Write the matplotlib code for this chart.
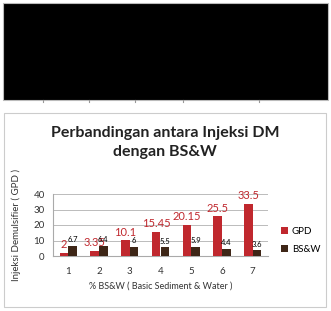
import matplotlib.pyplot as plt
import matplotlib.patches as patches
import numpy as np

kategori = ["1", "2", "3", "4", "5", "6", "7"]
gpd = [2, 3.35, 10.1, 15.45, 20.15, 25.5, 33.5]
bsw = [6.7, 6.4, 6, 5.5, 5.9, 4.4, 3.6]

merah = "#C0282E"
coklat = "#3E2617"
plt.rcParams['font.family'] = ['Lato', 'DejaVu Sans']

fig = plt.figure(figsize=(3.31, 3.11), dpi=100)

# kotak hitam di atas
fig.patches.append(patches.Rectangle((3/331, 1-100/311), 325/331, 97/311,
                                     transform=fig.transFigure, facecolor="black",
                                     edgecolor="#BBBBBB", linewidth=0.8, zorder=-2))
for tx in [43, 89, 135, 183, 259]:
    fig.lines.append(plt.Line2D([tx/331, tx/331], [1-100/311, 1-102/311],
                                transform=fig.transFigure, color="#999999", lw=0.8, zorder=-1))

# bingkai grafik
fig.patches.append(patches.Rectangle((4/331, 1-307/311), 322/331, 194/311,
                                     transform=fig.transFigure, facecolor="white",
                                     edgecolor="#CCCCCC", linewidth=0.8, zorder=-2))

fig.text(165/331, 1-133/311, "Perbandingan antara Injeksi DM", ha="center", va="center",
         fontsize=11.5, fontweight="bold", color="#222222")
fig.text(165/331, 1-152/311, "dengan BS&W", ha="center", va="center",
         fontsize=11.5, fontweight="bold", color="#222222")

ax = fig.add_axes([53/331, 1-256/311, 215/331, 62/311])
ax.set_facecolor("none")
x = np.arange(len(kategori))
w = 0.28
b1 = ax.bar(x - w/2, gpd, w, color=merah, label="GPD", zorder=3)
b2 = ax.bar(x + w/2, bsw, w, color=coklat, label="BS&W", zorder=3)

for i in range(len(x)):
    ax.annotate(str(gpd[i]), (x[i] - w/2, gpd[i]), xytext=(0, 2), textcoords="offset points",
                ha="center", va="bottom", fontsize=8, color=merah)
    ax.annotate(str(bsw[i]), (x[i] + w/2, bsw[i]), xytext=(0, 2), textcoords="offset points",
                ha="center", va="bottom", fontsize=5.5, color="black")

ax.set_xlim(-0.5, len(x) - 0.5)
ax.set_ylim(0, 40)
ax.set_yticks([0, 10, 20, 30, 40])
ax.set_xticks(x)
ax.set_xticklabels(kategori)
ax.tick_params(labelsize=7, length=0, colors="#333333", pad=8)
ax.tick_params(axis="y", pad=6)
ax.grid(axis="y", color="#BBBBBB", linewidth=0.7, zorder=0)
for s in ["top", "right"]:
    ax.spines[s].set_visible(False)
ax.spines["left"].set_color("#AAAAAA")
ax.spines["bottom"].set_color("#AAAAAA")
ax.set_xlabel("% BS&W ( Basic Sediment & Water )", fontsize=6.5, color="#333333", labelpad=4)
ax.set_ylabel("Injeksi Demulsifier ( GPD )", fontsize=7, color="#333333", labelpad=9)

ax.legend(loc="center left", bbox_to_anchor=(1.02, 0.25), frameon=False, fontsize=7,
          handlelength=0.7, handleheight=0.7, handletextpad=0.4, labelspacing=0.9)

fig.savefig("out.png", dpi=100)
